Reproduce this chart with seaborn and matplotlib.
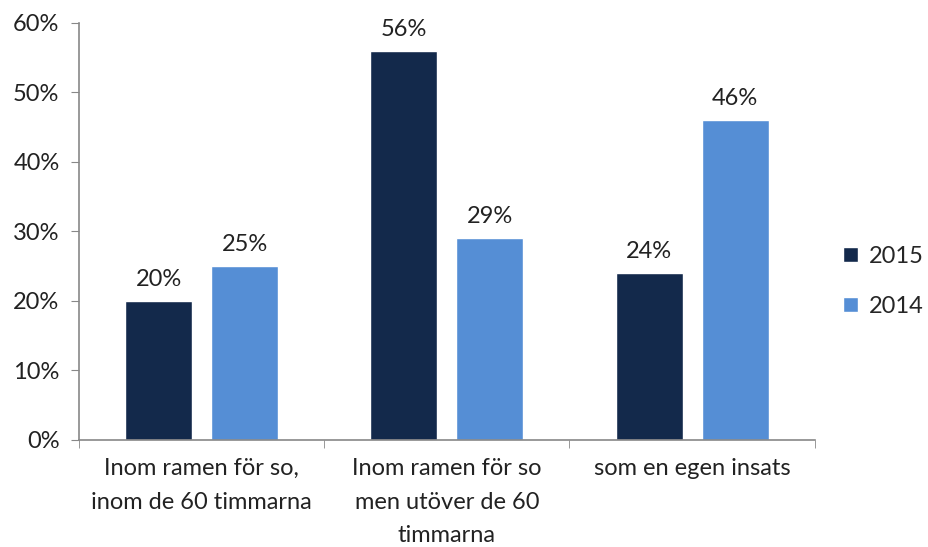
import matplotlib
matplotlib.use("Agg")
import matplotlib.pyplot as plt
import matplotlib.ticker as mticker
import pandas as pd
import seaborn as sns

categories = ["Inom ramen för so,\ninom de 60 timmarna",
              "Inom ramen för so\nmen utöver de 60\ntimmarna",
              "som en egen insats"]
years = ["2015", "2014"]
values_2015 = [0.20, 0.56, 0.24]
values_2014 = [0.25, 0.29, 0.46]
colors = ["#13294B", "#558ED5"]

df = pd.DataFrame({
    "kategori": categories * 2,
    "år": [years[0]] * 3 + [years[1]] * 3,
    "andel": values_2015 + values_2014,
})

sns.set_style("white")
plt.rcParams["font.family"] = ["Lato", "DejaVu Sans"]

fig = plt.figure(figsize=(9.29, 5.47), dpi=100)
ax = fig.add_axes([0.085, 0.196, 0.792, 0.762])

sns.barplot(data=df, x="kategori", y="andel", hue="år", palette=colors,
            width=0.70, gap=0.22, ax=ax, saturation=1)

for cont in ax.containers:
    ax.bar_label(cont, labels=[f"{v * 100:.0f}%" for v in cont.datavalues],
                 padding=8, fontsize=17, color="#222222")

ax.set_ylim(0, 0.6)
ax.set_xlim(-0.5, 2.5)
ax.yaxis.set_major_locator(mticker.MultipleLocator(0.1))
ax.yaxis.set_major_formatter(mticker.PercentFormatter(1.0, decimals=0))
ax.set_xlabel("")
ax.set_ylabel("")

ax.set_xticks(range(len(categories)), labels=categories, linespacing=1.75)
ax.set_xticks([-0.5, 0.5, 1.5, 2.5], minor=True)
ax.tick_params(axis="x", which="major", length=0, labelsize=17, pad=13,
               labelcolor="#222222")
ax.tick_params(axis="x", which="minor", length=6, color="#888888", bottom=True)
ax.tick_params(axis="y", length=6, color="#888888", left=True, labelsize=17,
               labelcolor="#222222", pad=8)

for side in ["top", "right"]:
    ax.spines[side].set_visible(False)
for side in ["left", "bottom"]:
    ax.spines[side].set_color("#888888")
    ax.spines[side].set_linewidth(1.2)

leg = ax.legend(title=None, frameon=False, fontsize=17, loc="center left",
                bbox_to_anchor=(1.01, 0.38), handlelength=0.6, handleheight=0.6,
                labelspacing=1.2, handletextpad=0.5)

fig.savefig("out.png", dpi=100)
